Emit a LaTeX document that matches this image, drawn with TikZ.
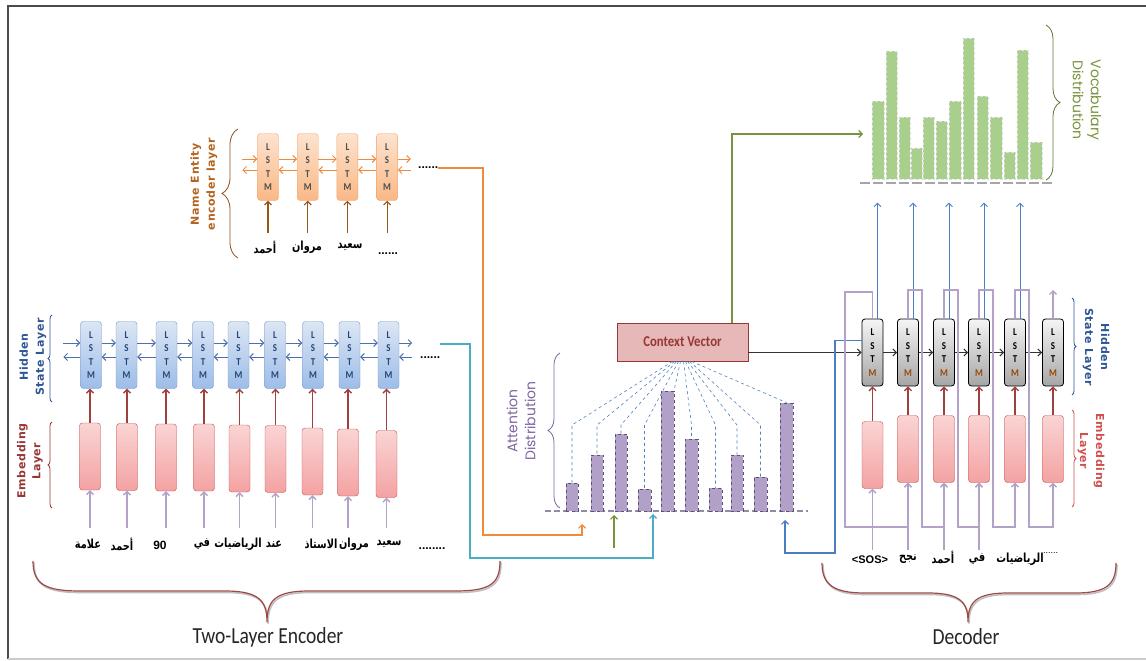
\documentclass[tikz,border=0pt]{standalone}
\usepackage{fontspec}
\usepackage{tikz}
\usetikzlibrary{positioning,decorations.pathreplacing,arrows,arrows.meta}
\TeXXeTstate=1
\newfontfamily\arabicfont[Script=Arabic,FakeStretch=0.78]{DejaVu Sans}
\newfontfamily\calfont[FakeStretch=0.85]{Carlito}
\newfontfamily\lblfont[LetterSpace=6]{DejaVu Sans}
\newfontfamily\distfont{Poppins}
\newfontfamily\sosfont{Liberation Sans}

\definecolor{hidlbl}{HTML}{2F5597}
\definecolor{encblue}{HTML}{4F6FA8}
\definecolor{lstmblueT}{HTML}{DCE6F4}
\definecolor{lstmblueB}{HTML}{9DBDE8}
\definecolor{lstmblueD}{HTML}{7396CC}
\definecolor{nerorange}{HTML}{F08A3C}
\definecolor{nerT}{HTML}{FDE3CF}
\definecolor{nerB}{HTML}{F9B887}
\definecolor{nerD}{HTML}{F3A46A}
\definecolor{nerlbl}{HTML}{B3641F}
\definecolor{embT}{HTML}{FAD4D4}
\definecolor{embB}{HTML}{F4A2A2}
\definecolor{embD}{HTML}{C0504D}
\definecolor{embarrow}{HTML}{A0403E}
\definecolor{inpurple}{HTML}{B3A2C7}
\definecolor{attbarfill}{HTML}{B1A0C7}
\definecolor{attbarline}{HTML}{5E4E78}
\definecolor{attlbl}{HTML}{7E66A2}
\definecolor{dashblue}{HTML}{4F81BD}
\definecolor{cvfill}{HTML}{E6B9B8}
\definecolor{cvline}{HTML}{953735}
\definecolor{ctxgreen}{HTML}{77933C}
\definecolor{vocfill}{HTML}{A9CF8D}
\definecolor{tealline}{HTML}{4BACC6}
\definecolor{decblue}{HTML}{4A7EC2}
\definecolor{emblblenc}{HTML}{953735}
\definecolor{emblbldec}{HTML}{D0504D}
\definecolor{bracered}{HTML}{A04845}
\definecolor{decM}{HTML}{984807}

\newcommand{\lstmtxt}{L\\S\\T\\M}
\newcommand{\lstmdtxt}{L\\S\\T\\\textcolor{decM}{M}}

\tikzset{
	>={Straight Barb[length=3.5pt,width=7pt]},
	lstmbox/.style={
		rectangle, rounded corners=3pt, minimum width=21pt,
		minimum height=67pt, inner sep=0pt, align=center,
		font=\calfont\bfseries\fontsize{10.5}{13.5}\selectfont
	},
	enclstm/.style={lstmbox, draw=lstmblueD, top color=lstmblueT, bottom color=lstmblueB, text=hidlbl!80!black},
	nerlstm/.style={lstmbox, draw=nerD, top color=nerT, bottom color=nerB, text=black!70},
	declstm/.style={lstmbox, draw=black, thick, top color=black!4, bottom color=black!35, text=black},
	embbox/.style={rectangle, rounded corners=3pt, minimum width=21pt, minimum height=67pt,
		draw=embD, top color=embT, bottom color=embB},
	cvbox/.style={rectangle, draw=cvline, thick, fill=cvfill, minimum width=131pt,
		minimum height=38pt, text=cvline, font=\calfont\bfseries\fontsize{15}{17}\selectfont},
	attbar/.style={rectangle, draw=attbarline, dashed, fill=attbarfill, minimum width=12.5pt,
		inner sep=0pt, anchor=south},
	vocbar/.style={rectangle, draw=black!12, densely dashed, fill=vocfill, minimum width=11.5pt,
		inner sep=0pt, anchor=south},
	hidarrow/.style={->, draw=encblue, line width=1pt},
	nerarrow/.style={->, draw=nerorange, line width=1pt},
	nerup/.style={->, draw=nerlbl!85!black, line width=1.1pt},
	embup/.style={->, draw=embarrow, line width=1.3pt},
	inarrow/.style={->, draw=inpurple, line width=1.3pt},
	decarrow/.style={->, draw=black!80, line width=1.1pt},
	fbline/.style={draw=inpurple, line width=1.3pt},
	outarrow/.style={->, draw=decblue, line width=0.9pt},
	attline/.style={draw=dashblue, dashed, line width=0.6pt},
	sidelbl/.style={font=\lblfont\bfseries\fontsize{11}{16}\selectfont, align=center},
	distlbl/.style={font=\distfont\fontsize{14}{18}\selectfont, align=center},
	arword/.style={font=\arabicfont\bfseries\fontsize{12.5}{14}\selectfont, inner sep=1pt},
	dotstxt/.style={font=\sosfont\bfseries\fontsize{12}{14}\selectfont, inner sep=0pt},
	titletxt/.style={font=\calfont\fontsize{23}{26}\selectfont, text=black!85},
	smallbrace/.style={decorate, decoration={brace, amplitude=4pt}, line width=0.8pt},
	curlybrace/.style={decorate, decoration={brace, amplitude=#1}, line width=0.8pt},
	bigbrace/.style={draw=bracered, line width=1.2pt,
		preaction={draw=black!25, line width=1.6pt, transform canvas={xshift=1pt, yshift=-1.5pt}}}
}

\begin{document}
\begin{tikzpicture}[x=1pt,y=-1pt]
	\useasboundingbox (0,0) rectangle (1146,661);
	% frame
	\draw[black!70, line width=1.5pt] (8,659) -- (8,6) -- (1146,6);
	\draw[black!20, line width=1.5pt] (8,659) -- (1146,659);

	% row levels
	\coordinate (nerrow) at (0,233);
	\coordinate (encrow) at (0,528);
	\coordinate (decrow) at (0,550);
	\coordinate (fbtop) at (0,290);
	\coordinate (fbbot) at (0,527);
	\coordinate (attbend) at (0,425);

	% name entity encoder layer
	\node[nerlstm] (n1) at (268,167) {\lstmtxt};
	\node[nerlstm, right=18.3pt of n1] (n2) {\lstmtxt};
	\node[nerlstm, right=18.3pt of n2] (n3) {\lstmtxt};
	\node[nerlstm, right=18.3pt of n3] (n4) {\lstmtxt};
	\node[dotstxt, anchor=base west] (nerdots) at (418,168) {......};
	\node[arword] (m1) at (265,247) {\beginR أحمد\endR};
	\node[arword] (m2) at (307,247) {\beginR مروان\endR};
	\node[arword] (m3) at (350,247) {\beginR سعيد\endR};
	\node[dotstxt, anchor=base] (m4) at (388,254) {......};
	\foreach \i in {1,...,4}
		\draw[nerup] (n\i.south |- nerrow) -- (n\i.south);
	\foreach \i/\j in {1/2,2/3,3/4}{
		\draw[nerarrow] ([yshift=8pt]n\i.east) -- ([yshift=8pt]n\j.west);
		\draw[nerarrow] ([yshift=-3pt]n\j.west) -- ([yshift=-3pt]n\i.east);
	}
	\draw[nerarrow] ([yshift=8pt]n1.west) ++(-15,0) -- ++(15,0);
	\draw[nerarrow] ([yshift=-3pt]n1.west) -- ++(-15,0);
	\draw[nerarrow] ([yshift=8pt]n4.east) -- ++(13,0);
	\draw[nerarrow] ([yshift=-3pt]n4.east) ++(13,0) -- ++(-13,0);
	\draw[curlybrace=16pt, draw=nerlbl!80!black] (238,258) -- (238,129);
	\node[sidelbl, text=nerlbl, rotate=90] (nerlbl) at (204,184) {Name Entity\\encoder layer};

	% two-layer encoder
	\foreach \i/\x in {1/91,2/126.5,3/166.5,4/203,5/238.5,6/275,7/313,8/349.5,9/388.5}
		\node[enclstm] (h\i) at (\x,355) {\lstmtxt};
	\foreach \i/\x/\y in {1/90/456.5,2/127/457,3/166/457.5,4/204/457.5,5/239.5/458.5,
		6/275.5/459,7/312.5/461.5,8/348/462.5,9/386.5/464}
		\node[embbox] (e\i) at (\x,\y) {};
	\foreach \i in {1,...,9}{
		\draw[embup] (e\i.north) -- (e\i.north |- h\i.south);
		\draw[inarrow] (e\i.south |- encrow) -- (e\i.south);
	}
	\foreach \i/\j in {1/2,2/3,3/4,4/5,5/6,6/7,7/8,8/9}{
		\draw[hidarrow] ([yshift=12pt]h\i.east) -- ([yshift=12pt]h\j.west);
		\draw[hidarrow] ([yshift=-2pt]h\j.west) -- ([yshift=-2pt]h\i.east);
	}
	\draw[hidarrow] ([yshift=12pt]h1.west) ++(-17,0) -- ++(17,0);
	\draw[hidarrow] ([yshift=-2pt]h1.west) -- ++(-17,0);
	\draw[hidarrow] ([yshift=12pt]h9.east) -- ++(13,0);
	\draw[hidarrow] ([yshift=-2pt]h9.east) ++(13,0) -- ++(-13,0);
	\node[dotstxt, anchor=base west] (encdots) at (420,358) {......};
	\foreach \i/\x/\w in {1/88/علامة,2/122/أحمد,4/202/في,5/238/الرياضيات,6/274/عند,
		7/321/الاستاذ,8/354/مروان,9/389/سعيد}
		\node[arword] (x\i) at (\x,544) {\beginR\w\endR};
	\node[arword, font=\sosfont\bfseries\fontsize{12}{14}\selectfont] (x3) at (160,545) {90};
	\node[dotstxt, anchor=base] (xdots) at (432,549) {........};
	\draw[smallbrace, draw=hidlbl] (52,402) -- (52,315);
	\draw[smallbrace, draw=emblblenc] (52,508) -- (52,422);
	\node[sidelbl, text=hidlbl, rotate=90] (enchid) at (33,357) {Hidden\\State Layer};
	\node[sidelbl, text=emblblenc, rotate=90, font=\lblfont\bfseries\fontsize{11}{15}\selectfont]
		(encemb) at (30,461) {Embedding\\Layer};

	% attention distribution
	\node[cvbox] (cv) at (682.5,342) {Context Vector};
	\draw[attbarfill!85!black, line width=2.5pt, dash pattern=on 6pt off 3pt] (545,511) -- (808,511);
	\foreach \i/\x/\h in {1/572/28,2/597/56,3/621/77,4/644.5/22,5/667.5/120,
		6/691.5/72,7/715.5/23,8/737/56,9/760.5/34,10/786.5/108}
		\node[attbar, minimum height=\h pt] (a\i) at (\x,511) {};
	\foreach \i/\s in {1/-10,2/-8,3/-6,4/-4,6/1,7/3,8/5,9/7}
		\draw[attline] ([xshift=\s pt]cv.south) -- (a\i.north |- attbend) -- (a\i.north);
	\draw[attline] ([xshift=-2pt]cv.south) -- (a5.north east);
	\draw[attline] ([xshift=9pt]cv.south) -- (a10.north);
	\draw[curlybrace=12pt, draw=attlbl] (560,508) -- (560,353);
	\node[distlbl, text=attlbl, rotate=90] (attlbl) at (521,421) {Attention\\Distribution};

	% inputs of the attention
	\coordinate (inNE) at (582,524);
	\coordinate (inEnc) at (653,514);
	\coordinate (inCtx) at (614,515);
	\coordinate (inDec) at (785,520);
	\draw[->, draw=nerorange, line width=1.1pt] (nerdots.base east) -| (483,535) -| (inNE);
	\draw[->, draw=tealline, line width=1.3pt] ([yshift=14pt]encdots.base east) -| (470,558) -| (inEnc);
	\draw[->, draw=ctxgreen, line width=1.1pt] (inCtx) ++(0,33) -- (inCtx);

	% vocabulary distribution
	\draw[black!35, line width=2.5pt, dash pattern=on 10pt off 3pt] (860,183) -- (1053,183);
	\foreach \i/\x/\h in {1/878/78,2/891.5/128,3/904.5/62,4/916.5/31,5/928.5/62,6/941.5/58,
		7/955/78,8/968.5/141,9/982.5/83,10/996/62,11/1009.5/27,12/1022.5/129,13/1036/37}
		\node[vocbar, minimum height=\h pt] (v\i) at (\x,179) {};
	\coordinate (vocin) at (863,134);
	\draw[->, draw=ctxgreen, line width=1.1pt] ([xshift=49.5pt]cv.north) |- (vocin);
	\draw[curlybrace=14pt, draw=ctxgreen!80!black] (1046,25) -- (1046,180);
	\node[distlbl, text=ctxgreen, rotate=-90] (voclbl) at (1087,100) {Vocabulary\\Distribution};

	% decoder
	\foreach \i/\x in {1/872.5,2/908,3/944,4/979,5/1015,6/1053}
		\node[declstm] (d\i) at (\x,352.5) {\lstmdtxt};
	\node[embbox] (f1) at (872.5,455) {};
	\foreach \i/\x in {2/908,3/944,4/979,5/1015,6/1053}
		\node[embbox] (f\i) at (\x,449) {};
	\foreach \i in {1,...,6}
		\draw[embup] (f\i.north) -- (d\i.south);
	\foreach \i/\j in {1/2,2/3,3/4,4/5,5/6}
		\draw[decarrow] (d\i) -- (d\j);
	\draw[decarrow] (cv.east |- d1.west) -- (d1.west);
	\draw[->, draw=decblue, line width=1.1pt] ([yshift=12pt]d1.west) -| (835,553) -| (inDec);
	\foreach \i in {1,...,5}
		\draw[outarrow] ([xshift=5pt]d\i.north) -- ++(0,-116);
	\draw[fbline, ->] (d1.north) |- (845,292) |- (f2.south |- fbbot) -- (f2.south);
	\foreach \i/\j/\bx in {2/3/922,3/4/958,4/5/993,5/6/1029}
		\draw[fbline, ->] (d\i.north) |- (\bx,290) |- (f\j.south |- fbbot) -- (f\j.south);
	\draw[fbline, ->] (d6.north) -- (d6.north |- fbtop);
	\node[arword, font=\sosfont\bfseries\fontsize{11}{13}\selectfont] (y1) at (870,560) {<SOS>};
	\node[arword] (y2) at (908,559) {\beginR نجح\endR};
	\node[arword] (y3) at (943,557) {\beginR أحمد\endR};
	\node[arword] (y4) at (977,559) {\beginR في\endR};
	\node[arword] (y5) at (1020,559) {\beginR الرياضيات\endR};
	\node[dotstxt, anchor=base west, font=\sosfont\fontsize{9}{10}\selectfont] (ydots) at (1043,553) {......};
	\foreach \i in {1,...,4}
		\draw[inarrow] (f\i.south |- decrow) -- (f\i.south);
	\draw[smallbrace, draw=hidlbl] (1072,298) -- (1072,395);
	\draw[smallbrace, draw=emblbldec] (1072,410) -- (1072,507);
	\node[sidelbl, text=hidlbl, rotate=-90] (dechid) at (1096,347) {Hidden\\State Layer};
	\node[sidelbl, text=emblbldec, rotate=-90] (decemb) at (1091,451) {Embedding\\Layer};

	% bottom braces
	\draw[bigbrace] (33,561) .. controls (33,584) and (45,591) .. (80,591) -- (225,591)
		.. controls (258,591) and (267,600) .. (267,622) .. controls (267,600) and (276,591) .. (309,591)
		-- (455,591) .. controls (490,591) and (500,584) .. (500,561);
	\draw[bigbrace] (822,563) .. controls (822,585) and (834,593) .. (865,593) -- (928,593)
		.. controls (960,593) and (968,602) .. (968,622) .. controls (968,602) and (976,593) .. (1008,593)
		-- (1075,593) .. controls (1106,593) and (1116,585) .. (1116,563);
	\node[titletxt] (enclbl) at (268,637) {Two-Layer Encoder};
	\node[titletxt] (declbl) at (966,637) {Decoder};
\end{tikzpicture}
\end{document}
